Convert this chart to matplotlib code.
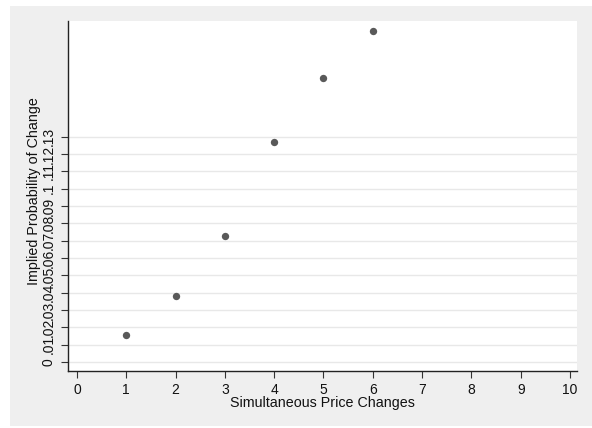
import numpy as np
import matplotlib.pyplot as plt

plt.rcParams['font.family'] = ['Liberation Sans', 'DejaVu Sans']

# data
changes = [1, 2, 3, 4, 5, 6]
prob = [0.0156, 0.0381, 0.0727, 0.1269, 0.1639, 0.1912]

yticks = [i / 100 for i in range(14)]
ylabels = ['0', '.01', '.02', '.03', '.04', '.05', '.06', '.07', '.08', '.09',
           '.1', '.11', '.12', '.13']
xticks = list(range(11))

fig = plt.figure(figsize=(5.92, 4.28), dpi=100)
fig.patch.set_facecolor('white')
# gray graph region like Stata
fig.add_artist(plt.Rectangle((10 / 592, 0.005), 1 - 10 / 592, 1 - 6 / 428 - 0.005,
                             transform=fig.transFigure, facecolor='#efefef',
                             edgecolor='none', zorder=-10))

ax = fig.add_axes([68 / 592, 1 - 371 / 428, (577 - 68) / 592, 350 / 428])
ax.set_facecolor('white')

ax.scatter(changes, prob, s=28, color='#595959', zorder=3, linewidths=0)

ax.set_xlim(-0.18, 10.14)
ax.set_ylim(-0.0052, 0.1968)
ax.set_xticks(xticks)
ax.set_yticks(yticks)
ax.set_yticklabels(ylabels, rotation=90, va='center')

for y in yticks:
    ax.axhline(y, color='#e8e8e8', lw=1, zorder=1)

for s in ['top', 'right']:
    ax.spines[s].set_visible(False)
for s in ['left', 'bottom']:
    ax.spines[s].set_linewidth(1)
    ax.spines[s].set_color('#222222')

ax.tick_params(axis='both', direction='out', length=5, width=0.8, color='#333333',
               labelsize=10, labelcolor='#111111', pad=4)

ax.set_xlabel('Simultaneous Price Changes', fontsize=10.3, color='#111111')
ax.set_ylabel('Implied Probability of Change', fontsize=10.3, color='#111111')
ax.xaxis.set_label_coords(0.5, -0.072)
ax.yaxis.set_label_coords(-0.066, 0.514)
ax.yaxis.label.set_va('center')

fig.savefig('out.png', dpi=100, facecolor=fig.get_facecolor())
